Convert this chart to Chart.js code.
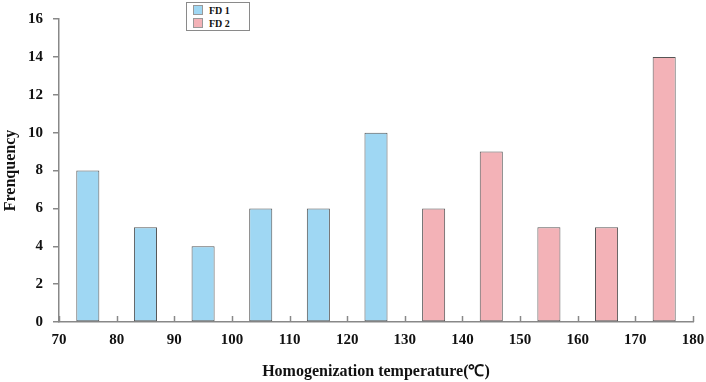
<!DOCTYPE html>
<html>
<head>
<meta charset="utf-8">
<script src="https://cdn.jsdelivr.net/npm/chart.js@4.4.1/dist/chart.umd.min.js"></script>
<style>
  html, body { margin: 0; padding: 0; background: #fff; }
  #wrap { position: relative; width: 706px; height: 382px; }
  #legend { position: absolute; left: 186px; top: 2px; width: 62px; height: 27px; border: 1px solid #8a8a8a;
    background: #fff; font: bold 10px "Liberation Serif", serif; color: #111; }
  #legend div { display: flex; align-items: center; height: 12px; margin-top: 1px; padding-left: 6px; }
  #legend span.sw { display: inline-block; width: 8px; height: 8px; margin-right: 6px; border: 1px solid #999; }
</style>
</head>
<body>
<div id="wrap">
  <canvas id="chart" width="706" height="382"></canvas>
  <div id="legend"></div>
</div>
<script>
(function () {
  // ─── Data ───
  const fd1Temps = [75, 85, 95, 105, 115, 125];
  const fd1Counts = [8, 5, 4, 6, 6, 10];
  const fd2Temps = [135, 145, 155, 165, 175];
  const fd2Counts = [6, 9, 5, 5, 14];
  const seriesNames = ['FD 1', 'FD 2'];
  const seriesColors = ['#9fd7f3', '#f3b2b7'];

  const serif = '"Liberation Serif", "Times New Roman", serif';
  const tickFont = { family: serif, weight: 'bold', size: 15 };
  const titleFont = { family: serif, weight: 'bold', size: 16 };

  const pairs = (xs, ys) => xs.map((x, i) => ({ x: x, y: ys[i] }));

  // x ticks point up into the plot area
  const innerTicks = {
    id: 'innerTicks',
    afterDraw(chart) {
      const sx = chart.scales.x, ctx = chart.ctx;
      ctx.save();
      ctx.strokeStyle = '#888';
      ctx.lineWidth = 1.5;
      sx.ticks.forEach(t => {
        const px = Math.round(sx.getPixelForValue(t.value)) + 0.5;
        ctx.beginPath();
        ctx.moveTo(px, sx.top);
        ctx.lineTo(px, sx.top - 6);
        ctx.stroke();
      });
      ctx.restore();
    }
  };

  const chart = new Chart(document.getElementById('chart'), {
    type: 'bar',
    data: {
      datasets: [
        { label: seriesNames[0], data: pairs(fd1Temps, fd1Counts), backgroundColor: seriesColors[0], borderColor: '#555', borderWidth: 1, borderSkipped: false },
        { label: seriesNames[1], data: pairs(fd2Temps, fd2Counts), backgroundColor: seriesColors[1], borderColor: '#555', borderWidth: 1, borderSkipped: false }
      ]
    },
    options: {
      responsive: false, animation: false,
      grouped: false, barPercentage: 0.4, categoryPercentage: 1,
      layout: { padding: { top: 10, right: 13, left: 0, bottom: 0 } },
      plugins: { legend: { display: false }, tooltip: { enabled: false } },
      scales: {
        x: {
          type: 'linear', min: 70, max: 180, offset: false,
          ticks: { stepSize: 10, color: '#111', font: tickFont, padding: 9, maxRotation: 0 },
          grid: { drawOnChartArea: false, drawTicks: false, offset: false },
          border: { color: '#888', width: 1.5 },
          title: { display: true, text: 'Homogenization temperature(℃)', color: '#111', font: titleFont, padding: { top: 0, bottom: 1 } },
          afterFit(scale) { scale.height = 60; scale.paddingLeft = 0; scale.paddingRight = 0; }
        },
        y: {
          min: 0, max: 16,
          ticks: { stepSize: 2, color: '#111', font: tickFont, padding: 10 },
          grid: { drawOnChartArea: false, drawTicks: true, tickLength: 6, color: '#888', lineWidth: 1.5 },
          border: { color: '#888', width: 1.5 },
          title: { display: true, text: 'Frenquency', color: '#111', font: titleFont, padding: { top: 1, bottom: 0 } },
          afterFit(scale) { scale.width = 59; }
        }
      }
    },
    plugins: [innerTicks]
  });

  // ─── Legend ───
  document.getElementById('legend').innerHTML = chart.data.datasets.map(d =>
    `<div><span class="sw" style="background:${d.backgroundColor}"></span>${d.label}</div>`
  ).join('');
})();
</script>
</body>
</html>
